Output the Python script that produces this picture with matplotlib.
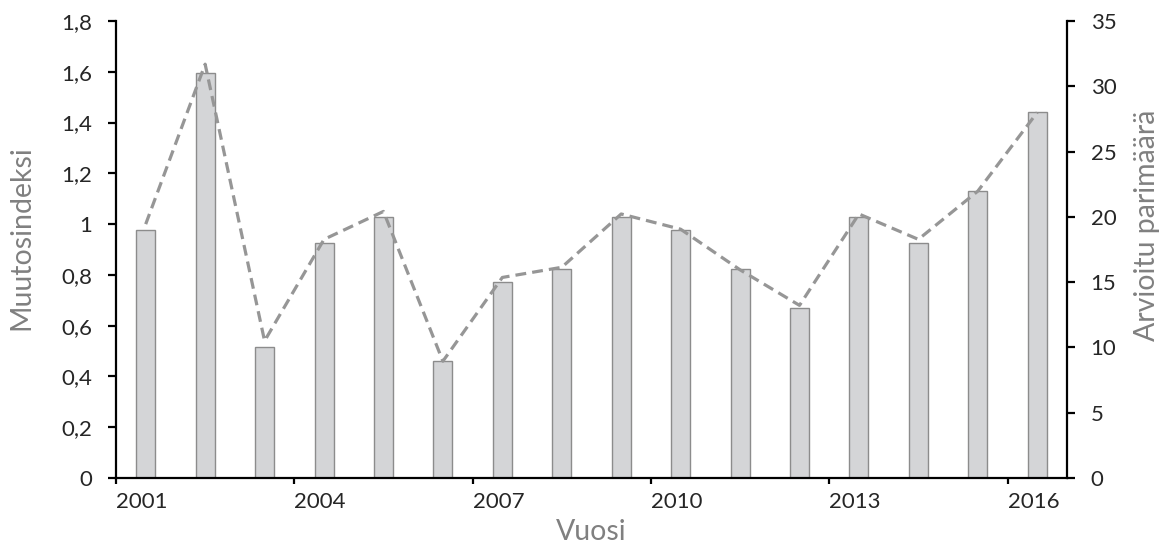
import matplotlib
matplotlib.use("Agg")
import matplotlib.pyplot as plt
import matplotlib.transforms as mtransforms
from matplotlib.ticker import FuncFormatter, FixedLocator

# Yearly data
years = [2001, 2002, 2003, 2004, 2005, 2006, 2007, 2008,
         2009, 2010, 2011, 2012, 2013, 2014, 2015, 2016]
pairs = [19, 31, 10, 18, 20, 9, 15, 16, 20, 19, 16, 13, 20, 18, 22, 28]
index = [1.00, 1.63, 0.54, 0.94, 1.05, 0.46, 0.79, 0.83,
         1.04, 0.98, 0.82, 0.68, 1.04, 0.94, 1.13, 1.44]
year_ticks = [2001, 2004, 2007, 2010, 2013, 2016]

plt.rcParams["font.family"] = ["Lato", "DejaVu Sans"]

TICK_COLOR = "#262626"
LABEL_COLOR = "#808080"

fig = plt.figure(figsize=(11.68, 5.46), dpi=100)
ax = fig.add_axes([0.0993, 0.1245, 0.8142, 0.837])
ax2 = ax.twinx()

# bars sit in the middle of each year slot
centers = [y + 0.5 for y in years]
ax2.bar(centers, pairs, width=0.32, color="#d4d5d7", edgecolor="#8c8c8c",
        linewidth=1.0, zorder=2)
ax.plot(centers, index, linestyle=(0, (3.4, 1.9)), color="#969696",
        linewidth=2.3, zorder=3)

ax.set_zorder(ax2.get_zorder() + 1)
ax.patch.set_visible(False)

ax.set_xlim(2001, 2017)
ax.set_ylim(0, 1.8)
ax2.set_ylim(0, 35)

ax.set_yticks([0, 0.2, 0.4, 0.6, 0.8, 1.0, 1.2, 1.4, 1.6, 1.8])
ax.yaxis.set_major_formatter(FuncFormatter(
    lambda v, p: ("%g" % round(v, 1)).replace(".", ",")))
ax2.set_yticks(range(0, 36, 5))

ax.xaxis.set_major_locator(FixedLocator(year_ticks))
ax.set_xticklabels([str(y) for y in year_ticks])
offset = mtransforms.ScaledTranslation(3 / 100, 0, fig.dpi_scale_trans)
for lbl in ax.get_xticklabels():
    lbl.set_horizontalalignment("left")
    lbl.set_transform(lbl.get_transform() + offset)

for a in (ax, ax2):
    for side in ("left", "right", "bottom"):
        a.spines[side].set_linewidth(1.6)
        a.spines[side].set_color("black")
    a.spines["top"].set_visible(False)
ax.spines["right"].set_visible(False)
ax2.spines["left"].set_visible(False)
ax2.spines["bottom"].set_visible(False)

ax.tick_params(axis="y", direction="out", length=6, width=1.6,
               pad=11, labelsize=16, labelcolor=TICK_COLOR)
ax2.tick_params(axis="y", direction="out", length=6, width=1.6,
                pad=11, labelsize=16, labelcolor=TICK_COLOR)
ax.tick_params(axis="x", direction="out", length=4, width=1.6,
               pad=6, labelsize=16, labelcolor=TICK_COLOR)

ax.set_xlabel("Vuosi", fontsize=20.5, color=LABEL_COLOR)
ax.xaxis.set_label_coords(0.5, -0.09)
ax.set_ylabel("Muutosindeksi", fontsize=20.5, color=LABEL_COLOR)
ax.yaxis.set_label_coords(-0.086, 0.526)
ax2.set_ylabel("Arvioitu parimäärä", fontsize=20.5, color=LABEL_COLOR)
ax2.yaxis.set_label_coords(1.07, 0.554)

fig.savefig("out.png", dpi=100)
